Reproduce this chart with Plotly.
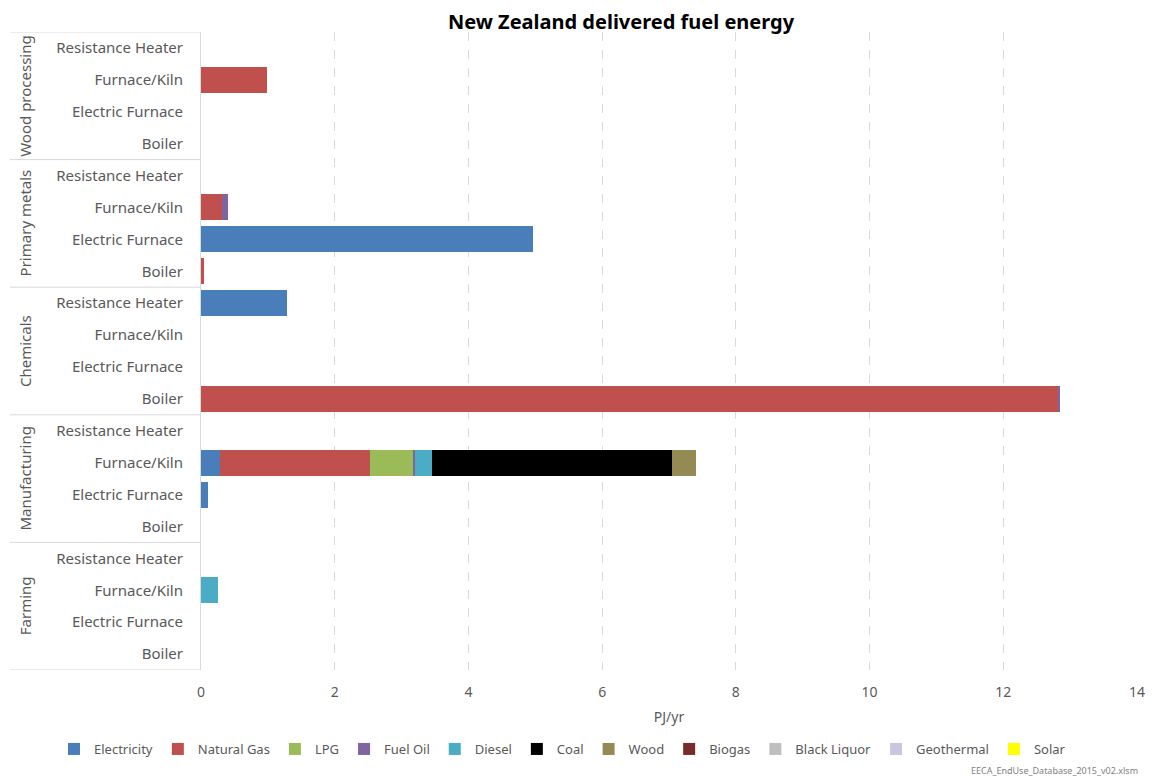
import plotly.graph_objects as go

sectors = ["Farming", "Manufacturing", "Chemicals", "Primary metals", "Wood processing"]
end_uses = ["Boiler", "Electric Furnace", "Furnace/Kiln", "Resistance Heater"]

fuels = ["Electricity", "Natural Gas", "LPG", "Fuel Oil", "Diesel", "Coal", "Wood",
         "Biogas", "Black Liquor", "Geothermal", "Solar"]
colors = ["#4a7ebb", "#c0504d", "#9bbb59", "#8064a2", "#4bacc6", "#000000", "#948a54",
          "#772c2a", "#bfbfbf", "#c9c6e0", "#ffff00"]

# values ordered: sector (bottom->top) x end use (Boiler, Electric Furnace, Furnace/Kiln, Resistance Heater)
electricity = [0, 0, 0, 0,   0, 0.10, 0.29, 0,   0, 0, 0, 1.28,   0, 4.96, 0, 0,      0, 0, 0, 0]
natural_gas = [0, 0, 0, 0,   0, 0, 2.24, 0,      12.83, 0, 0, 0,  0.04, 0, 0.31, 0,   0, 0, 0.98, 0]
lpg         = [0, 0, 0, 0,   0, 0, 0.64, 0,      0, 0, 0, 0,      0, 0, 0, 0,         0, 0, 0, 0]
fuel_oil    = [0, 0, 0, 0,   0, 0, 0.03, 0,      0.02, 0, 0, 0,   0, 0, 0.10, 0,      0, 0, 0, 0]
diesel      = [0, 0, 0.26, 0, 0, 0, 0.26, 0,     0, 0, 0, 0,      0, 0, 0, 0,         0, 0, 0, 0]
coal        = [0, 0, 0, 0,   0, 0, 3.59, 0,      0, 0, 0, 0,      0, 0, 0, 0,         0, 0, 0, 0]
wood        = [0, 0, 0, 0,   0, 0, 0.35, 0,      0, 0, 0, 0,      0, 0, 0, 0,         0, 0, 0, 0]
biogas      = [0] * 20
black_liquor = [0] * 20
geothermal  = [0] * 20
solar       = [0] * 20

series = [electricity, natural_gas, lpg, fuel_oil, diesel, coal, wood,
          biogas, black_liquor, geothermal, solar]

x_ticks = [0, 2, 4, 6, 8, 10, 12, 14]

cat_keys = [f"{s}|{e}" for s in sectors for e in end_uses]
cat_labels = [e for s in sectors for e in end_uses]

fig = go.Figure()
for name, col, vals in zip(fuels, colors, series):
    fig.add_trace(go.Bar(
        x=vals, y=cat_keys, orientation="h", name=name,
        marker=dict(color=col, line=dict(width=0)),
    ))

FONT = "Noto Sans"
OFF = 8  # browser default body margin
W, H = 1159 - OFF, 781 - OFF
# page-coordinate targets
P_LEFT, P_RIGHT, P_TOP, P_BOTTOM = 201, 1137, 32, 670
L = P_LEFT - OFF
R = W - (P_RIGHT - OFF)
T = P_TOP - OFF
B = H - (P_BOTTOM - OFF)
pw = P_RIGHT - P_LEFT
ph = P_BOTTOM - P_TOP

shapes = []
for i in range(len(sectors) + 1):
    yv = -0.5 + 4 * i
    shapes.append(dict(type="line", xref="paper", yref="y",
                       x0=(10 - P_LEFT) / pw, x1=0, y0=yv, y1=yv,
                       line=dict(color="#d9d9d9", width=1)))

annotations = []
for i, s in enumerate(sectors):
    annotations.append(dict(text=s, xref="paper", yref="y",
                            x=(25 - P_LEFT) / pw, y=4 * i + 1.5, textangle=-90,
                            showarrow=False, xanchor="center", yanchor="middle",
                            font=dict(family=FONT, size=15, color="#595959")))
annotations.append(dict(text="EECA_EndUse_Database_2015_v02.xlsm", xref="paper", yref="paper",
                        x=(1140 - P_LEFT) / pw, y=-(770 - P_BOTTOM) / ph,
                        xanchor="right", yanchor="middle", showarrow=False,
                        font=dict(family=FONT, size=9, color="#7f7f7f")))

fig.update_layout(
    width=W, height=H,
    barmode="stack", bargap=0.185,
    plot_bgcolor="white", paper_bgcolor="white",
    margin=dict(l=L, r=R, t=T, b=B),
    title=dict(text="<b>New Zealand delivered fuel energy</b>", x=(621 - OFF) / W, xref="container",
               xanchor="center", y=1 - (22 - OFF) / H, yref="container", yanchor="middle",
               font=dict(family=FONT, size=20, color="#000000")),
    xaxis=dict(range=[0, 14], tickvals=x_ticks, ticktext=[str(v) for v in x_ticks],
               showgrid=True, gridcolor="#d9d9d9", griddash="dash", zeroline=False,
               showline=False, ticks="", ticklabelstandoff=12,
               tickfont=dict(family=FONT, size=14, color="#595959"),
               title=dict(text="PJ/yr", font=dict(family=FONT, size=14, color="#595959"), standoff=12)),
    yaxis=dict(type="category", categoryorder="array", categoryarray=cat_keys,
               tickvals=cat_keys, ticktext=cat_labels, range=[-0.5, 19.5],
               showgrid=False, showline=True, linecolor="#d9d9d9", linewidth=1,
               ticks="", ticklabelstandoff=14,
               tickfont=dict(family=FONT, size=15, color="#595959")),
    legend=dict(orientation="h", xref="paper", yref="paper",
                x=(54 - P_LEFT) / pw, xanchor="left", y=-(749 - P_BOTTOM) / ph, yanchor="middle",
                font=dict(family=FONT, size=13, color="#595959"),
                itemwidth=30, tracegroupgap=0, traceorder="normal"),
    shapes=shapes, annotations=annotations,
    showlegend=True,
)

fig.write_html("out.html")
